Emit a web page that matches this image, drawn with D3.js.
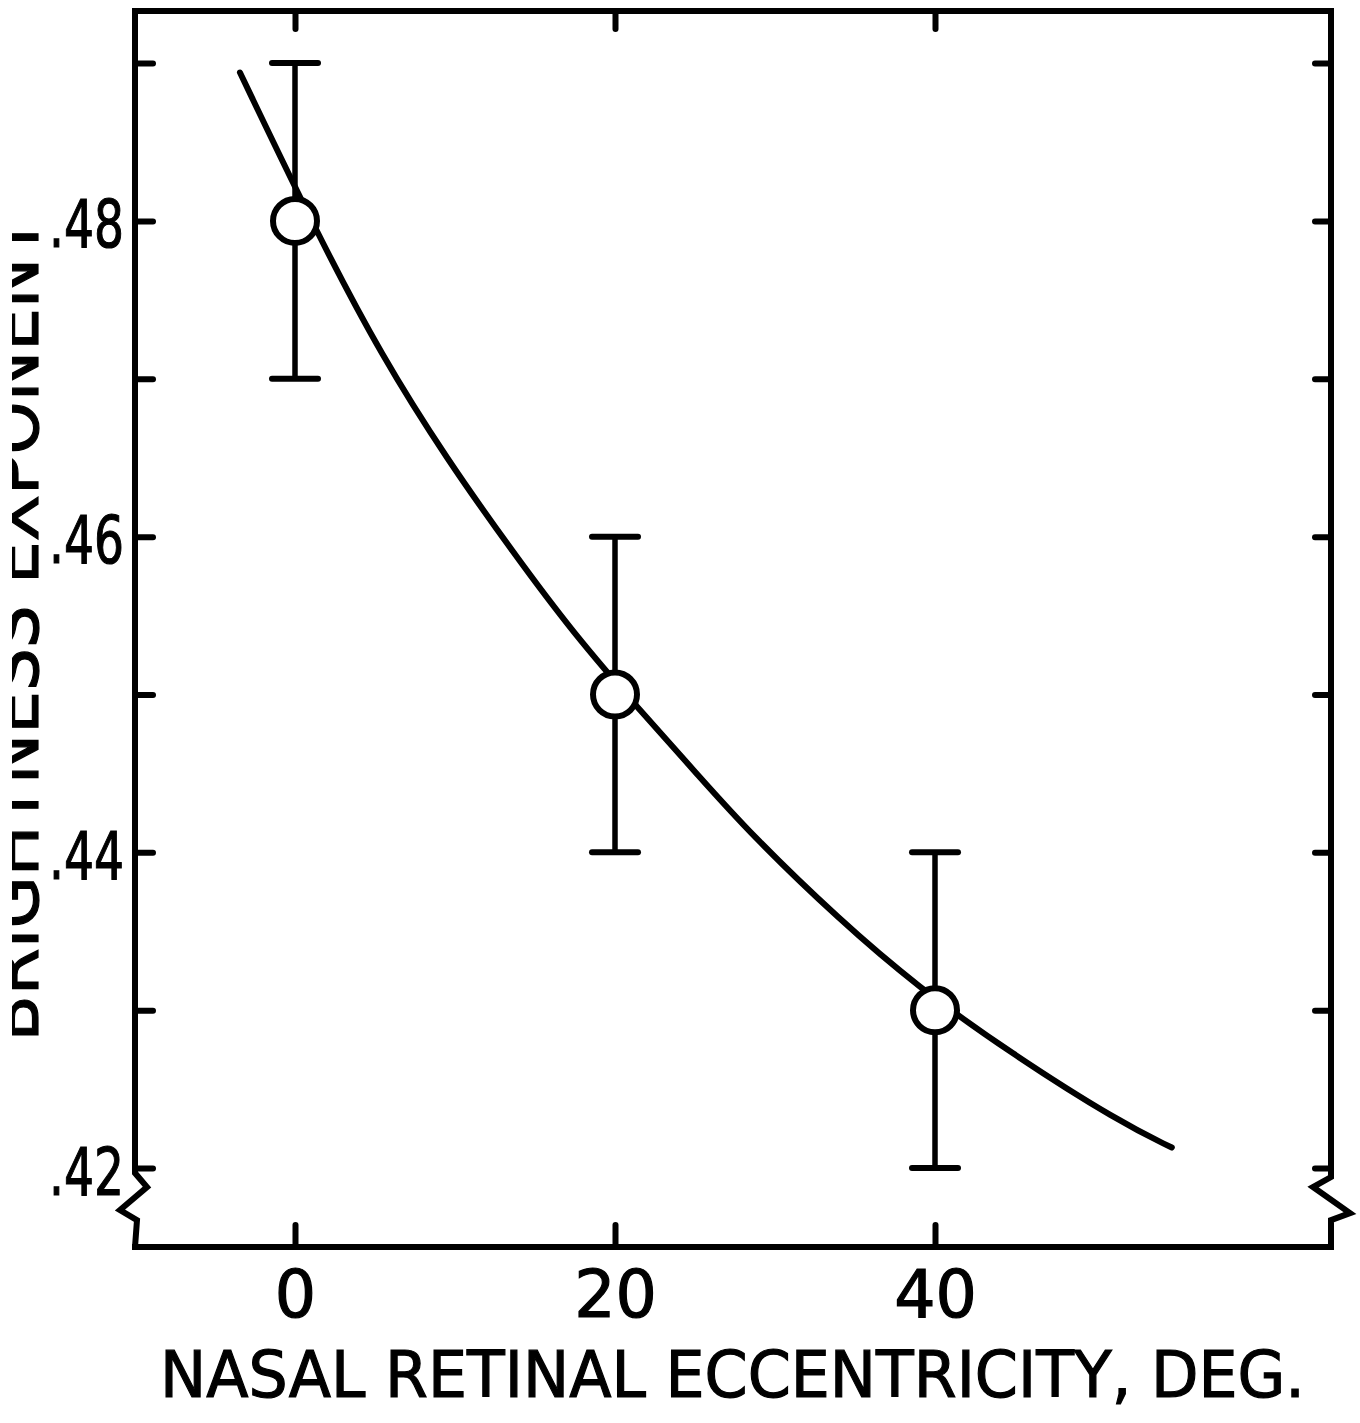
<!DOCTYPE html>
<html><head><meta charset="utf-8">
<script src="https://cdn.jsdelivr.net/npm/d3@7"></script>
<style>html,body{margin:0;padding:0;background:#fff;} svg{display:block}</style>
</head><body>
<svg id="chart" width="1360" height="1423"></svg>
<script>
// ---- data ----
const eccentricity = [0, 20, 40];
const exponentMean = [0.48, 0.45, 0.43];
const errorLow = [0.47, 0.44, 0.42];
const errorHigh = [0.49, 0.46, 0.44];
const fitX = [-3.44, 1.38, 5.44, 9.5, 13.63, 17.38, 21.56, 25.1, 28.44, 34.06, 38.9, 44.7, 51.56, 54.8];
const fitY = [0.4894, 0.4792, 0.4714, 0.4649, 0.4590, 0.4539, 0.4490, 0.4450, 0.4412, 0.4357, 0.4315, 0.4273, 0.4229, 0.4213];
const xTickValues = [0, 20, 40];
const yTickValues = [0.42, 0.43, 0.44, 0.45, 0.46, 0.47, 0.48, 0.49];
const yLabelValues = [0.42, 0.44, 0.46, 0.48];
const xTitle = "NASAL RETINAL ECCENTRICITY, DEG.";
const yTitle = "BRIGHTNESS EXPONENT";

// ---- layout ----
const L = 135, R = 1331, T = 11, B = 1247;
const FONT = "'DejaVu Sans', 'Liberation Sans', sans-serif";
const svg = d3.select("#chart");
const x = d3.scaleLinear().domain([-10, 64.75]).range([L, R]);
const y = d3.scaleLinear().domain([0.415, 0.4933]).range([B, T]);

const ink = "#000";
const SW = 6;

// frame with axis breaks
const y42 = y(0.42);
svg.append("path")
  .attr("d", `M${L},${B} H${R}`)
  .attr("stroke", ink).attr("stroke-width", SW).attr("fill", "none").attr("stroke-linecap", "square");
svg.append("path")
  .attr("d", `M${L},${T} H${R}`)
  .attr("stroke", ink).attr("stroke-width", SW).attr("fill", "none").attr("stroke-linecap", "square");
svg.append("path")
  .attr("d", `M${L},${T} V${y42 + 5} L${L + 12},${y42 + 19} L${L - 15},${y42 + 42} L${L + 2},${y42 + 52} L${L},${B}`)
  .attr("stroke", ink).attr("stroke-width", SW).attr("fill", "none").attr("stroke-linejoin", "miter");
svg.append("path")
  .attr("d", `M${R},${T} V${y42 + 9} L${R - 18},${y42 + 19} L${R + 19},${y42 + 45} L${R},${y42 + 52} L${R},${B}`)
  .attr("stroke", ink).attr("stroke-width", SW).attr("fill", "none").attr("stroke-linejoin", "miter");

// axes (inward ticks)
function styleAxis(g) {
  g.select(".domain").remove();
  g.selectAll(".tick line").attr("stroke", ink).attr("stroke-width", SW).attr("stroke-linecap", "round");
}
const yFmt = d => yLabelValues.some(v => Math.abs(v - d) < 1e-9) ? d3.format(".2f")(d).replace(/^0/, "") : "";

const gLeft = svg.append("g").attr("transform", `translate(${L},0)`)
  .call(d3.axisLeft(y).tickValues(yTickValues).tickSize(-18).tickPadding(11).tickFormat(yFmt));
styleAxis(gLeft);
gLeft.selectAll(".tick text")
  .attr("font-family", FONT).attr("font-size", 65).attr("fill", ink)
  .attr("stroke", ink).attr("stroke-width", 1.2)
  .attr("dy", 26)
  .each(function () { if (this.textContent) d3.select(this).attr("textLength", 75).attr("lengthAdjust", "spacingAndGlyphs"); });

const gRight = svg.append("g").attr("transform", `translate(${R},0)`)
  .call(d3.axisRight(y).tickValues(yTickValues).tickSize(-16).tickFormat(""));
styleAxis(gRight);

const gTop = svg.append("g").attr("transform", `translate(0,${T})`)
  .call(d3.axisTop(x).tickValues(xTickValues).tickSize(-18).tickFormat(""));
styleAxis(gTop);

const gBottom = svg.append("g").attr("transform", `translate(0,${B})`)
  .call(d3.axisBottom(x).tickValues(xTickValues).tickSize(-22).tickFormat(d3.format("d")));
styleAxis(gBottom);
gBottom.selectAll(".tick text")
  .attr("font-family", FONT).attr("font-size", 65).attr("fill", ink)
  .attr("stroke", ink).attr("stroke-width", 1.2)
  .attr("y", 70).attr("dy", 0);

// fitted curve
const fitData = fitX.map((v, i) => [v, fitY[i]]);
svg.append("path")
  .datum(fitData)
  .attr("d", d3.line().x(d => x(d[0])).y(d => y(d[1])).curve(d3.curveBasis))
  .attr("fill", "none").attr("stroke", ink).attr("stroke-width", 6).attr("stroke-linecap", "round");

// error bars
const pts = eccentricity.map((e, i) => ({ e, m: exponentMean[i], lo: errorLow[i], hi: errorHigh[i] }));
const eb = svg.append("g");
eb.selectAll("line.v").data(pts).join("line").attr("class", "v")
  .attr("x1", d => x(d.e)).attr("x2", d => x(d.e))
  .attr("y1", d => y(d.lo)).attr("y2", d => y(d.hi))
  .attr("stroke", ink).attr("stroke-width", 5.5);
eb.selectAll("line.hi").data(pts).join("line").attr("class", "hi")
  .attr("x1", d => x(d.e) - 23).attr("x2", d => x(d.e) + 23)
  .attr("y1", d => y(d.hi)).attr("y2", d => y(d.hi))
  .attr("stroke", ink).attr("stroke-width", 6).attr("stroke-linecap", "round");
eb.selectAll("line.lo").data(pts).join("line").attr("class", "lo")
  .attr("x1", d => x(d.e) - 23).attr("x2", d => x(d.e) + 23)
  .attr("y1", d => y(d.lo)).attr("y2", d => y(d.lo))
  .attr("stroke", ink).attr("stroke-width", 6).attr("stroke-linecap", "round");

// points
svg.append("g").selectAll("circle").data(pts).join("circle")
  .attr("cx", d => x(d.e)).attr("cy", d => y(d.m)).attr("r", 22)
  .attr("fill", "#fff").attr("stroke", ink).attr("stroke-width", 6);

// axis titles
svg.append("text")
  .attr("x", 160).attr("y", 1397)
  .attr("font-family", FONT).attr("font-size", 64).attr("fill", ink)
  .attr("stroke", ink).attr("stroke-width", 1.2)
  .attr("textLength", 1145).attr("lengthAdjust", "spacingAndGlyphs")
  .text(xTitle);

svg.append("clipPath").attr("id", "yclip")
  .append("rect").attr("x", 12).attr("y", 0).attr("width", 100).attr("height", 1423);
svg.append("g").attr("clip-path", "url(#yclip)")
  .append("text")
  .attr("transform", `translate(38,${(T + B) / 2}) rotate(-90)`)
  .attr("text-anchor", "middle")
  .attr("font-family", FONT).attr("font-size", 68).attr("fill", ink)
  .attr("stroke", ink).attr("stroke-width", 1.2)
  .attr("textLength", 825).attr("lengthAdjust", "spacingAndGlyphs")
  .text(yTitle);
</script>
</body></html>
